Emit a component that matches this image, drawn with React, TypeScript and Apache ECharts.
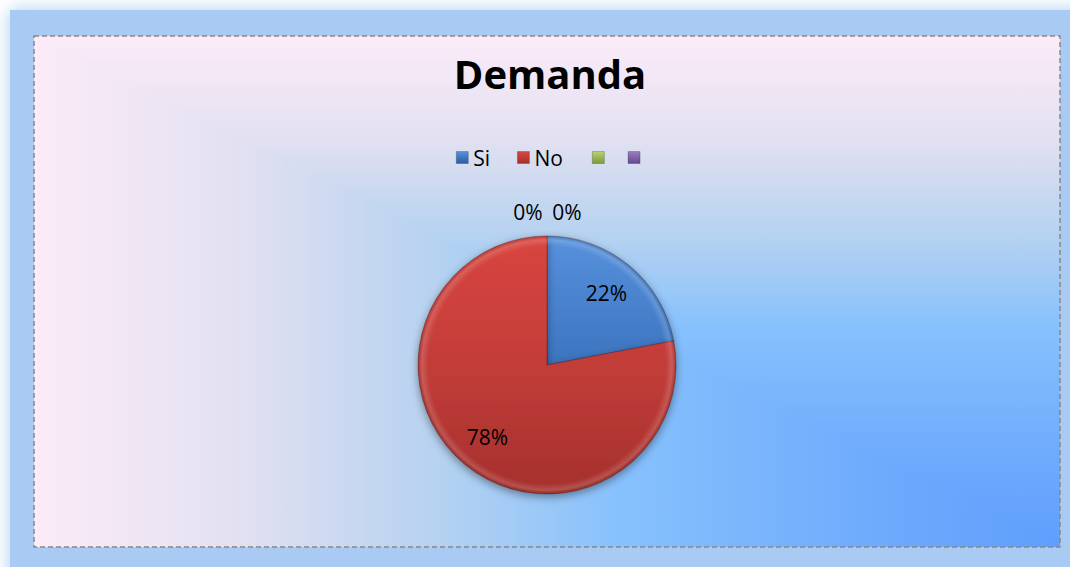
import React, { useEffect, useRef } from 'react';
import * as echarts from 'echarts';

// ---- data ----
const titleText = 'Demanda';
const categories = ['Si', 'No', '\u00a0', '\u00a0\u00a0'];
const values = [22, 78, 0, 0];

// ---- styling ----
const baseColors = ['#3c74bf', '#c23d39', '#9bbb59', '#8064a2'];
const lightColors = ['#5791dc', '#d9453f', '#b5d46c', '#9a7dc0'];
const darkColors = ['#2c5c9f', '#a5302c', '#7d9a3e', '#64498a'];
const CX = 547;
const CY = 365;
const R = 129;
const FONT = 'Open Sans';
const zeroLabelX = [528, 567];
const BX = 34, BY = 36, BW = 1026, BH = 511;
const bgStops = [
  { offset: 0, color: '#fcebf8' },
  { offset: 0.2, color: '#e2e1f1' },
  { offset: 0.39, color: '#b6d2f0' },
  { offset: 0.57, color: '#87c1fd' },
  { offset: 0.78, color: '#72aefc' },
  { offset: 1, color: '#5f9efc' },
];

export default function App() {
  const ref = useRef<HTMLDivElement>(null);
  useEffect(() => {
    if (!ref.current) return;
    const chart = echarts.init(ref.current, null, { renderer: 'svg' });
    const total = values.reduce((a, b) => a + b, 0);

    const sliceFill = (i: number) => ({
      type: 'linear', x: 0, y: CY - R, x2: 0, y2: CY + R, global: true,
      colorStops: [
        { offset: 0, color: lightColors[i] },
        { offset: 0.5, color: baseColors[i] },
        { offset: 1, color: darkColors[i] },
      ],
    });
    const iconFill = (i: number) => ({
      type: 'linear', x: 0, y: 0, x2: 0, y2: 1,
      colorStops: [
        { offset: 0, color: lightColors[i] },
        { offset: 1, color: darkColors[i] },
      ],
    });

    let zi = 0;
    const zeroTexts: any[] = [];
    values.forEach((v) => {
      if (v === 0) {
        zeroTexts.push({
          type: 'text', x: zeroLabelX[zi++] ?? CX, y: 212, z: 10,
          style: { text: Math.round((v / total) * 100) + '%', fontSize: 21, fontFamily: FONT, fill: '#000', align: 'center', verticalAlign: 'middle' },
        });
      }
    });

    const legendBase = {
      icon: 'rect', itemWidth: 12, itemHeight: 12, selectedMode: false, top: 147, padding: 0,
      textStyle: { fontSize: 21, fontFamily: FONT, color: '#000' },
      itemStyle: { borderColor: 'rgba(0,0,0,0.35)', borderWidth: 0.6 },
    };

    chart.setOption({
      animation: false,
      graphic: [
        {
          type: 'rect', shape: { x: 10, y: 10, width: 1080, height: 580 }, z: -10,
          style: { fill: '#a9cbf3', shadowBlur: 18, shadowColor: '#a9cbf3' },
        },
        {
          type: 'rect', shape: { x: BX, y: BY, width: BW, height: BH }, z: -9,
          style: {
            fill: { type: 'linear', x: 0, y: BY, x2: 0, y2: BY + BH, global: true, colorStops: bgStops },
          },
        },
        {
          type: 'polygon', shape: { points: [[BX, BY], [BX + BW, BY + BH], [BX, BY + BH]] }, z: -8,
          style: {
            fill: { type: 'linear', x: BX, y: 0, x2: BX + BW, y2: 0, global: true, colorStops: bgStops },
          },
        },
        {
          type: 'rect', shape: { x: BX, y: BY, width: BW, height: BH }, z: -7,
          style: { fill: 'none', stroke: '#888888', lineWidth: 1.5, lineDash: [5, 3] },
        },
        {
          type: 'text', x: 550, y: 73, z: 10,
          style: { text: titleText, fontSize: 40, fontWeight: 'bold', fontFamily: FONT, fill: '#000', align: 'center', verticalAlign: 'middle' },
        },
        ...zeroTexts,
      ],
      legend: [
        {
          ...legendBase, left: 456, itemGap: 27,
          data: categories.slice(0, 2).map((n, i) => ({ name: n, itemStyle: { color: iconFill(i) } })),
        },
        {
          ...legendBase, left: 592, itemGap: 13,
          data: categories.slice(2).map((n, i) => ({ name: n, itemStyle: { color: iconFill(i + 2) } })),
        },
      ],
      series: [
        {
          type: 'pie', center: [CX, CY], radius: R, startAngle: 90, clockwise: true, silent: true,
          label: { show: false }, labelLine: { show: false },
          itemStyle: { shadowBlur: 8, shadowColor: 'rgba(0,0,0,0.4)', shadowOffsetY: 3 },
          data: categories.map((n, i) => ({
            name: n, value: values[i],
            itemStyle: { color: sliceFill(i), borderWidth: values[i] > 0 ? 1 : 0, borderColor: 'rgba(60,20,20,0.35)' },
          })),
        },
        {
          type: 'pie', center: [CX, CY], radius: [R * 0.4, R], startAngle: 90, clockwise: true, silent: true,
          legendHoverLink: false,
          labelLine: { show: false },
          label: {
            show: true, position: 'inside', fontSize: 21, fontFamily: FONT, color: '#000',
            formatter: (p: any) => Math.round(p.percent) + '%',
          },
          itemStyle: {
            borderWidth: 0,
            color: {
              type: 'radial', x: CX, y: CY, r: R, global: true,
              colorStops: [
                { offset: 0, color: 'rgba(255,255,255,0)' },
                { offset: 0.92, color: 'rgba(255,255,255,0)' },
                { offset: 0.97, color: 'rgba(255,255,255,0.16)' },
                { offset: 1, color: 'rgba(0,0,0,0.12)' },
              ],
            },
          },
          data: categories.map((n, i) => ({
            name: n, value: values[i],
            label: { show: values[i] > 0 },
          })),
        },
      ],
    });
    return () => chart.dispose();
  }, []);
  return <div ref={ref} style={{ position: 'absolute', left: 0, top: 0, width: 1070, height: 567, background: '#ffffff' }} />;
}
